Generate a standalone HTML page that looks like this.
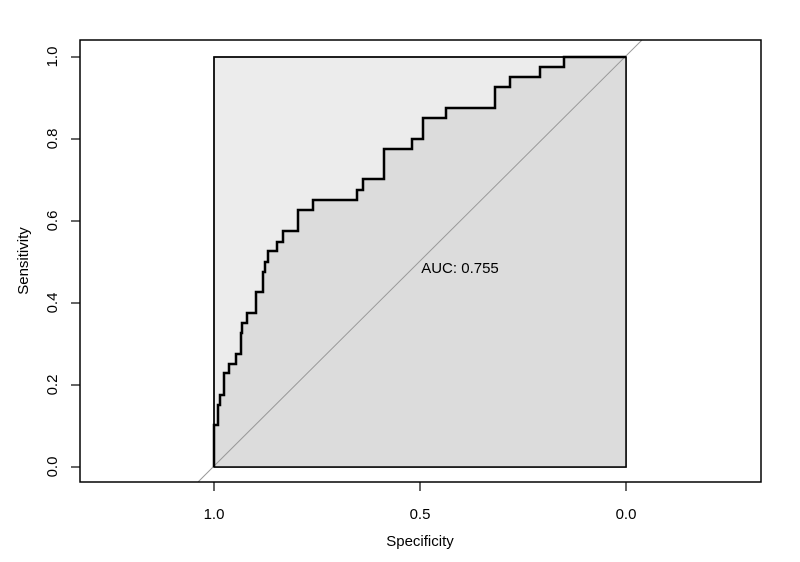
<!DOCTYPE html>
<html><head><meta charset="utf-8"><style>
html,body{margin:0;padding:0;background:#fff;}
svg{display:block;}
text{font-family:"Liberation Sans",Arial,sans-serif;font-size:15px;fill:#000;}
</style></head><body>
<svg width="800" height="562" viewBox="0 0 800 562" xmlns="http://www.w3.org/2000/svg">
<rect x="0" y="0" width="800" height="562" fill="#fff"/>
<rect x="214" y="57" width="412" height="410" fill="#ececec" stroke="#000" stroke-width="1.5"/>
<path d="M214,467 L214,425 L218,425 L218,405 L220,405 L220,395 L224,395 L224,373 L229,373 L229,364 L236,364 L236,354 L241,354 L241,333 L242,333 L242,323 L247,323 L247,313 L256,313 L256,292 L263,292 L263,272 L265,272 L265,262 L268,262 L268,251 L277,251 L277,242 L283,242 L283,231 L298,231 L298,210 L313,210 L313,200 L357,200 L357,190 L363,190 L363,179 L384,179 L384,149 L412,149 L412,139 L423,139 L423,118 L446,118 L446,108 L495,108 L495,87 L510,87 L510,77 L540,77 L540,67 L564,67 L564,57 L626,57 L626,467 Z" fill="#dcdcdc"/>
<rect x="214" y="57" width="412" height="410" fill="none" stroke="#000" stroke-width="1.5"/>
<line x1="198" y1="482" x2="642" y2="40" stroke="#999" stroke-width="1"/>
<path d="M214,467 L214,425 L218,425 L218,405 L220,405 L220,395 L224,395 L224,373 L229,373 L229,364 L236,364 L236,354 L241,354 L241,333 L242,333 L242,323 L247,323 L247,313 L256,313 L256,292 L263,292 L263,272 L265,272 L265,262 L268,262 L268,251 L277,251 L277,242 L283,242 L283,231 L298,231 L298,210 L313,210 L313,200 L357,200 L357,190 L363,190 L363,179 L384,179 L384,149 L412,149 L412,139 L423,139 L423,118 L446,118 L446,108 L495,108 L495,87 L510,87 L510,77 L540,77 L540,67 L564,67 L564,57 L626,57" fill="none" stroke="#000" stroke-width="2.5"/>
<rect x="80" y="40" width="681" height="442" fill="none" stroke="#000" stroke-width="1.5"/>
<g stroke="#000" stroke-width="1.2">
<line x1="214" y1="482" x2="214" y2="491"/><line x1="420" y1="482" x2="420" y2="491"/><line x1="626" y1="482" x2="626" y2="491"/>
<line x1="71" y1="57" x2="80" y2="57"/><line x1="71" y1="139" x2="80" y2="139"/><line x1="71" y1="221" x2="80" y2="221"/><line x1="71" y1="303" x2="80" y2="303"/><line x1="71" y1="385" x2="80" y2="385"/><line x1="71" y1="467" x2="80" y2="467"/>
</g>
<text x="214" y="519" text-anchor="middle">1.0</text>
<text x="420" y="519" text-anchor="middle">0.5</text>
<text x="626" y="519" text-anchor="middle">0.0</text>
<text x="420" y="546" text-anchor="middle">Specificity</text>
<g text-anchor="middle">
<text transform="translate(57,57) rotate(-90)">1.0</text>
<text transform="translate(57,139) rotate(-90)">0.8</text>
<text transform="translate(57,221) rotate(-90)">0.6</text>
<text transform="translate(57,303) rotate(-90)">0.4</text>
<text transform="translate(57,385) rotate(-90)">0.2</text>
<text transform="translate(57,467) rotate(-90)">0.0</text>
<text transform="translate(28,261) rotate(-90)">Sensitivity</text>
</g>
<text x="460" y="273" text-anchor="middle">AUC: 0.755</text>
</svg>
</body></html>
